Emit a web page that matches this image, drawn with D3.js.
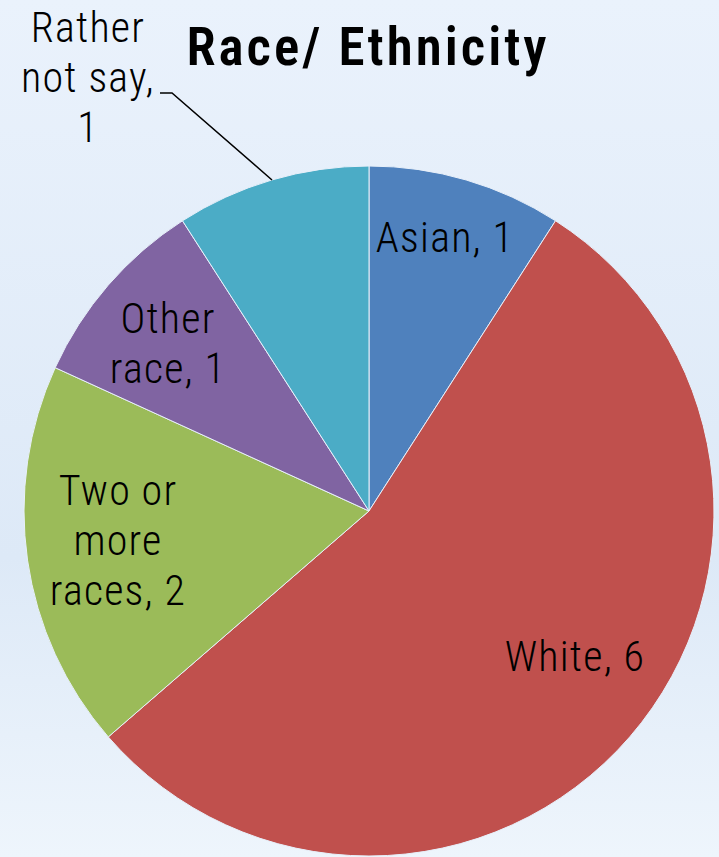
<!DOCTYPE html>
<html><head><meta charset="utf-8">
<script src="https://cdn.jsdelivr.net/npm/d3@7"></script>
<style>html,body{margin:0;padding:0;overflow:hidden;}</style>
</head><body>
<svg id="c" width="719" height="857"></svg>
<script>
const categories = ["Asian", "White", "Two or more races", "Other race", "Rather not say"];
const values = [1, 6, 2, 1, 1];
const colors = ["#4f81bd", "#c0504d", "#9bbb59", "#8064a2", "#4bacc6"];
const labelLines = [["Asian, 1"], ["White, 6"], ["Two or", "more", "races, 2"], ["Other", "race, 1"], ["Rather", "not say,", "1"]];
// x-center and baseline of the first line
const labelPos = [[445, 252], [575, 671], [118, 505], [168, 333], [88, 42]];

const W = 719, H = 857;
const svg = d3.select("#c");
const defs = svg.append("defs");
const g = defs.append("linearGradient").attr("id", "bg").attr("x1", 0).attr("y1", 0).attr("x2", 0).attr("y2", 1);
g.append("stop").attr("offset", "0%").attr("stop-color", "#eaf2fc");
g.append("stop").attr("offset", "65%").attr("stop-color", "#dde9f7");
g.append("stop").attr("offset", "100%").attr("stop-color", "#eef5fc");
svg.append("rect").attr("width", W).attr("height", H).attr("fill", "url(#bg)");

const cx = 369, cy = 511, r = 345;
const pie = d3.pie().sort(null).value(d => d)(values);
const arc = d3.arc().innerRadius(0).outerRadius(r);
const pg = svg.append("g").attr("transform", `translate(${cx},${cy})`);
pg.selectAll("path").data(pie).join("path")
  .attr("d", arc).attr("fill", (d, i) => colors[i])
  .attr("stroke", "#e8f0fa").attr("stroke-width", 1);

const font = "'Roboto Condensed', 'Liberation Sans Narrow', 'Liberation Sans', sans-serif";
svg.append("text").attr("x", 368).attr("y", 65).attr("text-anchor", "middle")
  .attr("font-family", font).attr("font-weight", 600).attr("font-size", 53)
  .attr("letter-spacing", 3)
  .attr("fill", "#000").text("Race/ Ethnicity");

// leader line for "Rather not say"
svg.append("polyline")
  .attr("points", "160,93 172,93 272,180")
  .attr("fill", "none").attr("stroke", "#000").attr("stroke-width", 1.5);

const lh = 50;
labelLines.forEach((lines, i) => {
  const [x, y] = labelPos[i];
  const t = svg.append("text").attr("text-anchor", "middle")
    .attr("font-family", font).attr("font-size", 42).attr("font-weight", 300)
    .attr("letter-spacing", 1.2).attr("fill", "#000");
  lines.forEach((ln, j) => {
    t.append("tspan").attr("x", x).attr("y", y + j * lh).text(ln);
  });
});
</script>
</body></html>
